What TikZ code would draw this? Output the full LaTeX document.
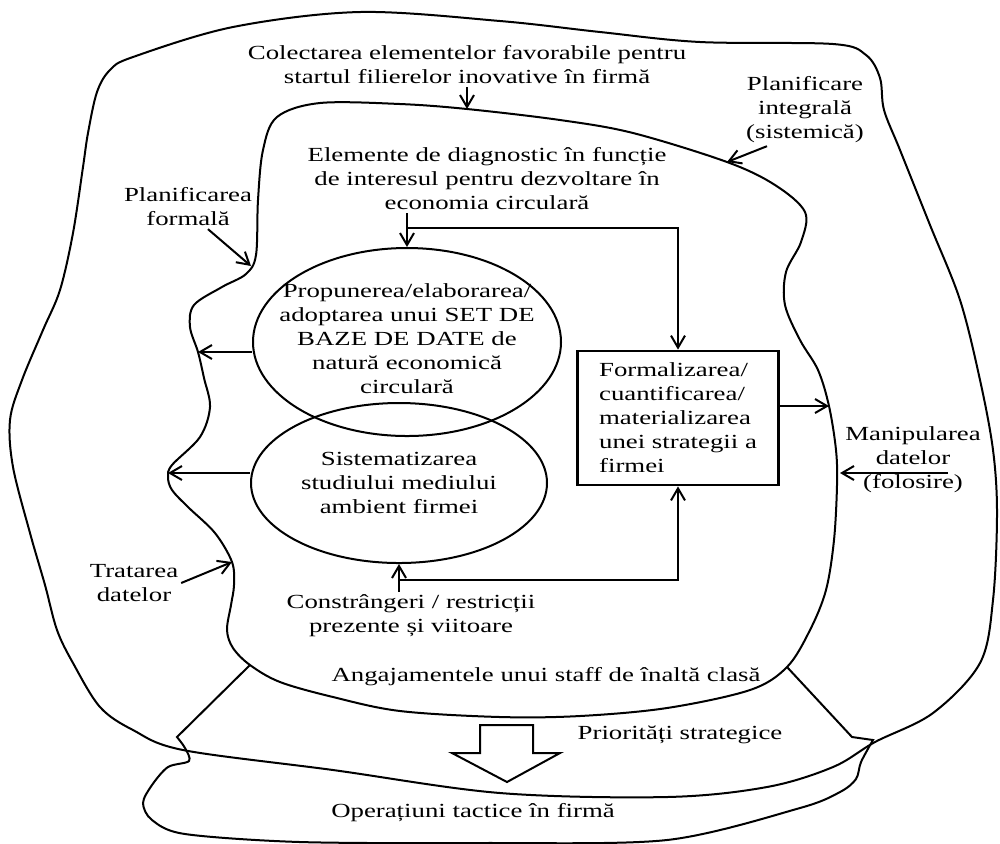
\documentclass[tikz,border=0pt]{standalone}
\usepackage{fontspec}
\setmainfont{Liberation Serif}[FakeStretch=1.34]
\usetikzlibrary{positioning}
\usetikzlibrary{calc}
\usetikzlibrary{shapes.geometric}
\usetikzlibrary{arrows.meta}

\begin{document}
\begin{tikzpicture}[
x=0.5pt, y=-0.5pt,
line width=1pt,
>={Straight Barb[length=6pt,width=7pt]},
ovalnode/.style={ellipse, draw, inner sep=0pt},
boxnode/.style={rectangle, draw, line width=1.4pt, minimum width=100.5pt,
minimum height=67pt, align=left, inner sep=2pt},
textnode/.style={align=center, inner sep=1pt}
]

\useasboundingbox (0,0) rectangle (1000,843);

%Curves
\draw plot[smooth cycle, tension=0.55] coordinates {
(110,70) (133,57) (233,27) (360,12) (500,21) (600,32) (700,42) (833,44)
(866,55) (880,78) (884,110) (900,150) (930,225) (960,300) (980,380)
(993,450) (997,513) (993,600) (980,663) (933,713) (875,742) (833,767)
(767,787) (667,797) (500,793) (333,770) (183,750) (133,730) (100,707)
(73,663) (57,630) (45,585) (30,533) (13,467) (10,420) (22,380) (43,330)
(60,290) (73,233) (83,167) (88,133) (97,92)};
\draw plot[smooth cycle, tension=0.55] coordinates {
(277,117) (320,103) (400,104) (467,109) (560,120) (633,133) (727,162)
(775,185) (805,212) (801,242) (786,272) (785,305) (800,340) (818,370)
(829,406) (836,450) (837,485) (834,540) (826,590) (810,630) (787,667)
(750,690) (667,708) (580,716) (500,717) (400,711) (333,697) (280,682)
(250,665) (233,648) (227,630) (231,605) (234,585) (232,562) (215,533)
(188,507) (172,490) (168,477) (172,465) (200,437) (210,407) (204,378)
(198,352) (190,327) (194,305) (222,287) (246,274) (256,255) (258,200)
(263,150)};
\draw (250,665) -- (177,737) -- plot[smooth, tension=0.5] coordinates {
(177,737) (185,748) (189,761) (168,767) (152,785) (143,803) (152,820)
(185,834) (300,842) (480,843) (667,840) (800,808) (840,792) (856,779)
(861,762) (873,740)} -- (852,737) -- (787,667);
\draw (480,725) -- (533,725) -- (533,753) -- (560,753) -- (507,782)
-- (452,753) -- (480,753) -- cycle;

%Nodes
\node[textnode] (colect) at (467,65) {Colectarea elementelor favorabile pentru\\startul filierelor inovative în firmă};
\node[textnode] (planint) at (805,110) {Planificare\\integrală\\(sistemică)};
\node[textnode] (elemente) at (487,179) {Elemente de diagnostic în funcție\\de interesul pentru dezvoltare în\\economia circulară};
\node[textnode] (planform) at (188,207) {Planificarea\\formală};
\node[ovalnode, minimum width=154pt, minimum height=94pt] (elips1) at (407,342) {};
\node[textnode] (elips1txt) at (407,339) {Propunerea/elaborarea/\\adoptarea unui SET DE\\BAZE DE DATE de\\natură economică\\circulară};
\node[ovalnode, minimum width=148pt, minimum height=80pt] (elips2) at (399,483) {};
\node[textnode] (elips2txt) at (elips2) {Sistematizarea\\studiului mediului\\ambient firmei};
\node[boxnode] (strateg) at (678,418) {Formalizarea/\\cuantificarea/\\materializarea\\unei strategii a\\firmei};
\node[textnode] (manip) at (913,460) {Manipularea\\datelor\\(folosire)};
\node[textnode] (tratare) at (134,583) {Tratarea\\datelor};
\node[textnode] (constr) at (411,616) {Constrângeri / restricții\\prezente și viitoare};
\node[textnode] (angaj) at (546,677) {Angajamentele unui staff de înaltă clasă};
\node[textnode] (prior) at (680,735) {Priorități strategice};
\node[textnode] (operat) at (473,813) {Operațiuni tactice în firmă};

%Coordinates
\coordinate (inTop) at (467,109);
\coordinate (inPlanInt) at (727,162);
\coordinate (inPlanForm) at (251,266);
\coordinate (inLeftA) at (198,352);
\coordinate (inLeftB) at (168,473);
\coordinate (inRight) at (829,406);
\coordinate (inManip) at (840,473);
\coordinate (inTratare) at (232,562);
\coordinate (split) at (407,228);
\coordinate (join) at (399,580);

%Lines
\draw[->] (colect.south) -- (inTop);
\draw[->] ([xshift=-19pt]planint.south) -- (inPlanInt);
\draw[->] ([xshift=10pt]planform.south) -- (inPlanForm);
\draw[->] (elemente.south -| elips1.north) -- (elips1.north);
\draw[->] (split) -| (strateg.north);
\draw[->] (constr.north -| elips2.south) -- (elips2.south);
\draw[->] (join) -| (strateg.south);
\draw[->] (elips1.west |- inLeftA) -- (inLeftA);
\draw[->] (elips2.west |- inLeftB) -- (inLeftB);
\draw[->] (strateg.east |- inRight) -- (inRight);
\draw[->] ([shift={(17.5pt,-6.5pt)}]manip.center) -- (inManip);
\draw[->] (tratare.east) -- (inTratare);

\end{tikzpicture}
\end{document}
